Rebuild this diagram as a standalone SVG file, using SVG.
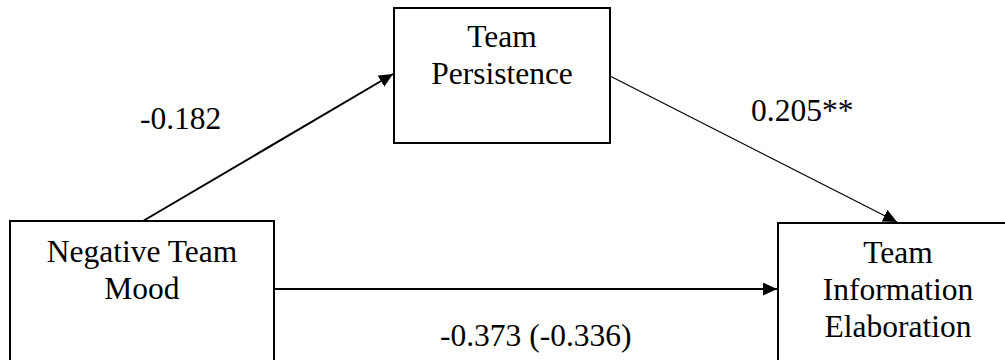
<svg xmlns="http://www.w3.org/2000/svg" width="1005" height="360" viewBox="0 0 1005 360">
  <style>
    .box { fill: #ffffff; stroke: #000000; stroke-width: 2; }
    .lbl { font-family: "Liberation Serif", "Times New Roman", serif; font-size: 31.5px; fill: #000000; }
    .ctr { text-anchor: middle; }
    .conn { fill: none; stroke: #000000; stroke-width: 2; }
    .thin { stroke-width: 1.2; }
  </style>
  <defs>
    <marker id="arrow" markerUnits="userSpaceOnUse" markerWidth="14" markerHeight="13" refX="14" refY="6.5" orient="auto" viewBox="0 0 14 13">
      <path d="M0,0 L14,6.5 L0,13 z" fill="#000000"/>
    </marker>
  </defs>
  <rect x="0" y="0" width="1005" height="360" fill="#ffffff"/>

  <g id="connectors">
    <line class="conn" x1="143" y1="221" x2="393" y2="74" marker-end="url(#arrow)"/>
    <line class="conn thin" x1="610" y1="76" x2="897" y2="222" marker-end="url(#arrow)"/>
    <line class="conn" x1="274" y1="289" x2="777" y2="289" marker-end="url(#arrow)"/>
  </g>

  <g id="node-persistence">
    <rect class="box" x="394" y="8" width="216" height="135"/>
    <text class="lbl ctr" x="502" y="46.5">Team</text>
    <text class="lbl ctr" x="502" y="84">Persistence</text>
  </g>

  <g id="node-mood">
    <rect class="box" x="10" y="221" width="264" height="160"/>
    <text class="lbl ctr" x="142" y="261.5">Negative Team</text>
    <text class="lbl ctr" x="142" y="299">Mood</text>
  </g>

  <g id="node-elaboration">
    <rect class="box" x="778" y="223" width="240" height="160"/>
    <text class="lbl ctr" x="898" y="263">Team</text>
    <text class="lbl ctr" x="898" y="300">Information</text>
    <text class="lbl ctr" x="898" y="337">Elaboration</text>
  </g>

  <g id="labels">
    <text class="lbl" x="140" y="128.5">-0.182</text>
    <text class="lbl" x="751" y="121">0.205**</text>
    <text class="lbl" x="440" y="345.5">-0.373 (-0.336)</text>
  </g>
</svg>
